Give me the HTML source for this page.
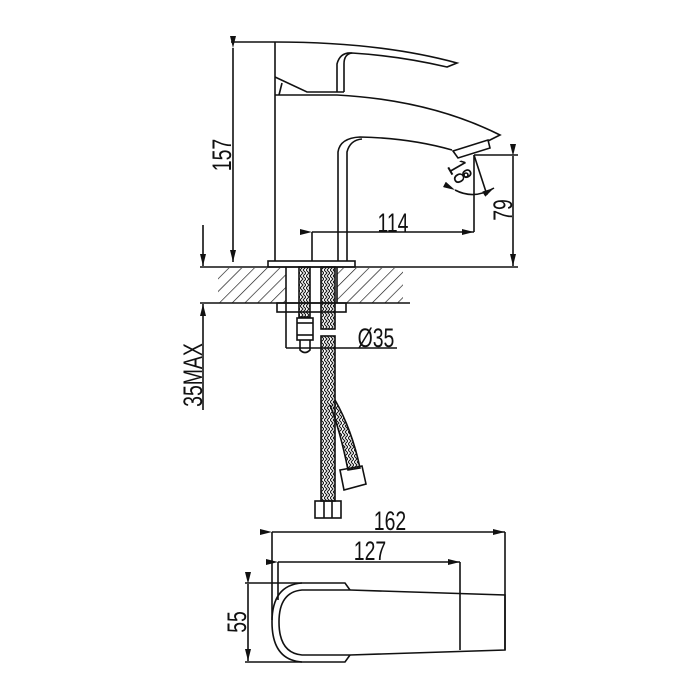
<!DOCTYPE html>
<html><head><meta charset="utf-8"><style>
html,body{margin:0;padding:0;background:#fff}
svg{display:block}
text{font-family:"Liberation Sans Narrow","Liberation Sans",sans-serif;font-size:27px;fill:#111}
</style></head><body>
<svg width="700" height="700" viewBox="0 0 700 700" xmlns="http://www.w3.org/2000/svg">
<defs>
<pattern id="h" width="9" height="9" patternUnits="userSpaceOnUse" patternTransform="rotate(45)">
<line x1="0" y1="0" x2="0" y2="9" stroke="#111" stroke-width="1.3"/>
</pattern>
<pattern id="br" width="6" height="6" patternUnits="userSpaceOnUse">
<path d="M0 0 L3 3 L0 6 M3 0 L6 3 L3 6" stroke="#111" stroke-width="1" fill="none"/>
</pattern>
<marker id="a" viewBox="0 0 12 6" refX="12" refY="3" markerWidth="12" markerHeight="6" orient="auto" markerUnits="userSpaceOnUse"><path d="M0 0 L12 3 L0 6z" fill="#111"/></marker>
</defs>
<g stroke="#111" stroke-width="1.6" fill="none">
<rect x="218" y="268" width="68" height="35" fill="url(#h)" stroke="none"/>
<rect x="337" y="268" width="66" height="35" fill="url(#h)" stroke="none"/>
<line x1="200" y1="267" x2="518" y2="267"/>
<line x1="200" y1="303" x2="410" y2="303"/>
<line x1="286" y1="267" x2="286" y2="303"/>
<line x1="337" y1="267" x2="337" y2="303"/>
<path d="M275 42 L275 261"/>
<path d="M231 42 L275 42 Q380 42 457 63 L447 67 Q400 56 352 53 Q344 54 344 64 L344 92"/>
<path d="M337 92 L337 64 Q340 52 352 53"/>
<path d="M275 77 L307 92 L344 92"/>
<path d="M275 95 L337 95 Q430 100 500 135 L488 141"/>
<path d="M279 95 L282 83"/>
<path d="M338 261 L338 152 Q340 138 360 137 Q410 138 452 150"/>
<path d="M347 261 L347 152 Q350 140 362 139"/>
<path d="M453 151 L488 140 L490 148 L458 158 Z"/>
<rect x="268" y="261" width="87" height="6"/>
<line x1="233" y1="48" x2="233" y2="262" marker-start="url(#a)" marker-end="url(#a)"/>
<line x1="312" y1="232" x2="312" y2="261"/>
<line x1="474" y1="155" x2="474" y2="232"/>
<line x1="312" y1="232" x2="474" y2="232" marker-start="url(#a)" marker-end="url(#a)"/>
<line x1="474" y1="155" x2="518" y2="155"/>
<line x1="513" y1="156" x2="513" y2="266" marker-start="url(#a)" marker-end="url(#a)"/>
<line x1="474" y1="155" x2="487" y2="195"/>
<path d="M455 190 Q474 200 494 188" marker-start="url(#a)" marker-end="url(#a)"/>
<circle cx="466" cy="175" r="2"/>
<line x1="203" y1="225" x2="203" y2="266" marker-end="url(#a)"/>
<line x1="203" y1="410" x2="203" y2="304" marker-end="url(#a)"/>
<rect x="277" y="303" width="69" height="9"/>
<rect x="299" y="267" width="11" height="50" fill="url(#br)"/>
<rect x="297" y="318" width="16" height="22"/>
<line x1="297" y1="323" x2="313" y2="323"/><line x1="297" y1="335" x2="313" y2="335"/>
<path d="M300 340 L300 350 Q305 355 310 350 L310 340"/>
<rect x="321" y="267" width="14" height="62" fill="url(#br)"/>
<rect x="321" y="336" width="14" height="165" fill="url(#br)"/>
<path d="M330 405 Q340 430 348 470 L360 468 Q352 430 335 400" fill="url(#br)"/>
<path d="M340 470 L362 466 L366 484 L344 490 Z"/>
<rect x="315" y="501" width="26" height="17"/>
<line x1="324" y1="501" x2="324" y2="518"/><line x1="332" y1="501" x2="332" y2="518"/>
<line x1="286" y1="303" x2="286" y2="348"/>
<line x1="286" y1="348" x2="397" y2="348"/>
<line x1="272" y1="532" x2="272" y2="620"/>
<line x1="505" y1="532" x2="505" y2="650"/>
<line x1="272" y1="532" x2="505" y2="532" marker-start="url(#a)" marker-end="url(#a)"/>
<line x1="278" y1="562" x2="278" y2="600"/>
<line x1="460" y1="562" x2="460" y2="650"/>
<line x1="278" y1="562" x2="460" y2="562" marker-start="url(#a)" marker-end="url(#a)"/>
<line x1="245" y1="583" x2="302" y2="583"/>
<line x1="245" y1="662" x2="302" y2="662"/>
<line x1="248" y1="584" x2="248" y2="661" marker-start="url(#a)" marker-end="url(#a)"/>
<path d="M350 590 L345 583 L302 583 Q272 585 272 622 Q272 660 302 662 L345 662 L350 655"/>
<path d="M350 590 L302 590 Q279 592 279 622 Q279 653 302 655 L350 655"/>
<path d="M350 590 L505 595 L505 650 L350 655"/>
</g>
<text transform="translate(393,232) scale(0.72,1)" text-anchor="middle">114</text>
<text transform="translate(231,155) rotate(-90) scale(0.72,1)" text-anchor="middle">157</text>
<text transform="translate(512,210) rotate(-90) scale(0.72,1)" text-anchor="middle">79</text>
<text transform="translate(452,176) rotate(60) scale(0.72,1)" text-anchor="middle">18</text>
<text transform="translate(202,375) rotate(-90) scale(0.72,1)" text-anchor="middle">35MAX</text>
<text transform="translate(376,347) scale(0.72,1)" text-anchor="middle">Ø35</text>
<text transform="translate(390,530) scale(0.72,1)" text-anchor="middle">162</text>
<text transform="translate(370,560) scale(0.72,1)" text-anchor="middle">127</text>
<text transform="translate(246,622) rotate(-90) scale(0.72,1)" text-anchor="middle">55</text>
</svg>
</body></html>
